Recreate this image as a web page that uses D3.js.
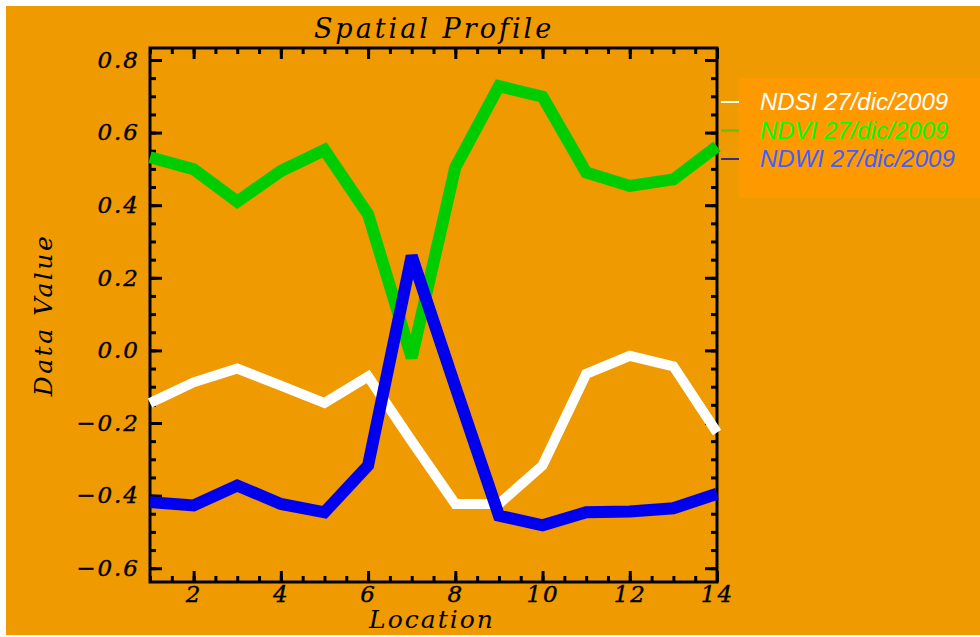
<!DOCTYPE html>
<html>
<head>
<meta charset="utf-8">
<script src="https://cdn.jsdelivr.net/npm/d3@7"></script>
<style>
  html, body { margin: 0; padding: 0; background: #ffffff; overflow: hidden; }
  svg { display: block; }
  .lbl { font-family: "DejaVu Serif", "Liberation Serif", serif; font-style: italic; fill: #000; }
  .axis path, .axis line { stroke: #000; }
  .axis text { font-family: "DejaVu Serif", serif; font-style: italic; font-size: 23px; fill: #000; letter-spacing: 2px; stroke: #000; stroke-width: 0.4px; }
</style>
</head>
<body>
<script>
"use strict";

// Data
const LOCATIONS = [1, 2, 3, 4, 5, 6, 7, 8, 9, 10, 11, 12, 13, 14];
const NDSI = [-0.145, -0.088, -0.05, -0.097, -0.145, -0.072, -0.25, -0.423, -0.423, -0.317, -0.065, -0.015, -0.044, -0.226];
const NDVI = [0.532, 0.499, 0.41, 0.494, 0.552, 0.375, -0.02, 0.504, 0.728, 0.699, 0.49, 0.453, 0.471, 0.562];
const NDWI = [-0.418, -0.427, -0.372, -0.423, -0.446, -0.317, 0.26, -0.1, -0.455, -0.482, -0.446, -0.444, -0.435, -0.395];
const SERIES_NAMES = ["NDSI 27/dic/2009", "NDVI 27/dic/2009", "NDWI 27/dic/2009"];
const X_TICKS = [2, 4, 6, 8, 10, 12, 14];
const Y_TICKS = [-0.6, -0.4, -0.2, 0.0, 0.2, 0.4, 0.6, 0.8];

// Layout
const WIDTH = 980, HEIGHT = 637;
const LEFT = 150, RIGHT = 717, TOP = 48, BOTTOM = 582;

const svg = d3.select("body").append("svg")
  .attr("width", WIDTH).attr("height", HEIGHT);

// orange background (thin white strip at top/left)
svg.append("rect").attr("x", 6).attr("y", 6)
  .attr("width", WIDTH - 6).attr("height", HEIGHT - 8)
  .attr("fill", "#EE9A00");

const x = d3.scaleLinear().domain([1, 14]).range([LEFT, RIGHT]);
const y = d3.scaleLinear().domain([-0.638, 0.833]).range([BOTTOM, TOP]);

const xMinor = d3.range(1, 14.01, 0.5);
const yMinor = d3.range(-0.6, 0.81, 0.05).map(function(v) { return +v.toFixed(2); });
const fmt = d3.format(".1f");

// minor ticks on all four sides
svg.append("g").attr("class", "axis").attr("transform", "translate(0," + BOTTOM + ")")
  .call(d3.axisBottom(x).tickValues(xMinor).tickSize(-6).tickFormat(""));
svg.append("g").attr("class", "axis").attr("transform", "translate(0," + TOP + ")")
  .call(d3.axisTop(x).tickValues(xMinor).tickSize(-6).tickFormat(""));
svg.append("g").attr("class", "axis").attr("transform", "translate(" + LEFT + ",0)")
  .call(d3.axisLeft(y).tickValues(yMinor).tickSize(-6).tickFormat(""));
svg.append("g").attr("class", "axis").attr("transform", "translate(" + RIGHT + ",0)")
  .call(d3.axisRight(y).tickValues(yMinor).tickSize(-6).tickFormat(""));

// major ticks
svg.append("g").attr("class", "axis").attr("transform", "translate(0," + BOTTOM + ")")
  .call(d3.axisBottom(x).tickValues(X_TICKS).tickSize(-11).tickPadding(4).tickFormat(d3.format("d")));
svg.append("g").attr("class", "axis").attr("transform", "translate(0," + TOP + ")")
  .call(d3.axisTop(x).tickValues(X_TICKS).tickSize(-11).tickFormat(""));
svg.append("g").attr("class", "axis").attr("transform", "translate(" + LEFT + ",0)")
  .call(d3.axisLeft(y).tickValues(Y_TICKS).tickSize(-12).tickPadding(10).tickFormat(fmt));
svg.append("g").attr("class", "axis").attr("transform", "translate(" + RIGHT + ",0)")
  .call(d3.axisRight(y).tickValues(Y_TICKS).tickSize(-12).tickFormat(""));

svg.selectAll(".axis line").attr("stroke-width", 3);
svg.selectAll(".axis .domain").remove();

// frame
svg.append("rect").attr("x", LEFT).attr("y", TOP)
  .attr("width", RIGHT - LEFT).attr("height", BOTTOM - TOP)
  .attr("fill", "none").attr("stroke", "#000").attr("stroke-width", 3);

// lines
const line = d3.line().x(function(d) { return x(d[0]); }).y(function(d) { return y(d[1]); });
const SERIES = [
  { vals: NDSI, color: "#FFFFFF", w: 10 },
  { vals: NDVI, color: "#00CC00", w: 12 },
  { vals: NDWI, color: "#0000EE", w: 12 }
];
SERIES.forEach(function(s) {
  svg.append("path")
    .datum(LOCATIONS.map(function(l, i) { return [l, s.vals[i]]; }))
    .attr("d", line)
    .attr("fill", "none")
    .attr("stroke", s.color)
    .attr("stroke-width", s.w)
    .attr("stroke-linejoin", "miter")
    .attr("stroke-miterlimit", 1.6);
});

// titles
svg.append("text").attr("class", "lbl").attr("x", 434).attr("y", 38)
  .attr("text-anchor", "middle").attr("font-size", 27).attr("letter-spacing", 3)
  .text("Spatial Profile");
svg.append("text").attr("class", "lbl").attr("x", 432).attr("y", 628)
  .attr("text-anchor", "middle").attr("font-size", 25).attr("letter-spacing", 2)
  .text("Location");
svg.append("text").attr("class", "lbl")
  .attr("transform", "translate(52,315) rotate(-90)")
  .attr("text-anchor", "middle").attr("font-size", 25).attr("letter-spacing", 2.5)
  .text("Data Value");

// legend
svg.append("rect").attr("x", 739).attr("y", 78).attr("width", 241).attr("height", 120)
  .attr("fill", "#FF9900");
const LEG_LINE = ["#FFFFEE", "#66BB00", "#3A2A80"];
const LEG_TEXT = ["#FFFFFF", "#00FF00", "#3F5FFF"];
SERIES_NAMES.forEach(function(name, i) {
  const yy = 102 + i * 28.5;
  svg.append("line").attr("x1", 721).attr("x2", 739).attr("y1", yy).attr("y2", yy)
    .attr("stroke", LEG_LINE[i]).attr("stroke-width", 2);
  svg.append("text").attr("x", 760).attr("y", yy + 8)
    .attr("font-family", "Liberation Sans, Arial, sans-serif").attr("font-style", "italic")
    .attr("font-size", 24).attr("fill", LEG_TEXT[i])
    .text(name);
});
</script>
</body>
</html>
